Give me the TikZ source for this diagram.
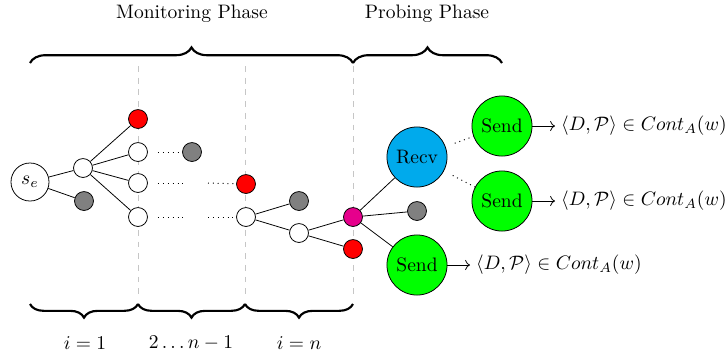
\documentclass[tikz,border=0pt]{standalone}
\usetikzlibrary{decorations.pathreplacing,arrows.meta}
\definecolor{nodered}{RGB}{255,0,0}
\definecolor{nodegray}{RGB}{128,128,128}
\definecolor{recvblue}{RGB}{0,170,236}
\definecolor{sendgreen}{RGB}{0,255,0}
\definecolor{hubmagenta}{RGB}{230,0,140}
\begin{document}
\begin{tikzpicture}[x=0.5128pt,y=-0.5128pt,
  state/.style={circle,draw,inner sep=0pt,minimum size=9.7pt},
  wstate/.style={state,fill=white},
  rstate/.style={state,fill=nodered},
  gstate/.style={state,fill=nodegray},
  mstate/.style={state,fill=hubmagenta},
  bigstate/.style={circle,draw,inner sep=0pt,minimum size=30.8pt},
  sendbox/.style={bigstate,fill=sendgreen},
  recvbox/.style={bigstate,fill=recvblue},
  edge/.style={draw,line width=0.4pt},
  dotline/.style={draw,dotted,line width=0.5pt},
  phaseline/.style={draw,dashed,gray!45,line width=0.5pt},
  bracetop/.style={draw,line width=1.1pt,decorate,decoration={brace,amplitude=8pt}},
  bracebot/.style={draw,line width=1.1pt,decorate,decoration={brace,mirror,amplitude=7pt}},
  result/.style={anchor=west,inner sep=3pt}]
\useasboundingbox (0,0) rectangle (728,356);

% phase separators
\foreach \x/\n in {138/a,245/b,353/c}{
  \coordinate (top\n) at (\x,66);
  \coordinate (bot\n) at (\x,300);
  \path[phaseline] (top\n) -- (bot\n);
}

% braces and phase titles
\coordinate (bl) at (30,63);
\coordinate (bm) at (353,63);
\coordinate (br) at (502,63);
\path[bracetop] (bl) -- (bm);
\path[bracetop] (bm) -- (br);
\node (mon) at (192,14) {Monitoring Phase};
\node (prob) at (427,14) {Probing Phase};

\coordinate (d0) at (30,304);
\coordinate (d1) at (138,304);
\coordinate (d2) at (245,304);
\coordinate (d3) at (353,304);
\path[bracebot] (d0) -- (d1);
\path[bracebot] (d1) -- (d2);
\path[bracebot] (d2) -- (d3);
\node (lab1) at (85,343) {$i=1$};
\node (lab2) at (191,343) {$2\ldots n-1$};
\node (lab3) at (299,343) {$i=n$};

% monitoring tree
\node[circle,draw,fill=white,inner sep=0pt,minimum size=19.5pt] (se) at (30,182) {$s_e$};
\node[wstate] (n1) at (83,168) {};
\node[gstate] (g0) at (84,201) {};
\node[rstate] (r1) at (138,119) {};
\node[wstate] (w1) at (138,152) {};
\node[wstate] (w2) at (138,183) {};
\node[wstate] (w3) at (138,217) {};
\node[gstate] (g1) at (192,152) {};
\node[rstate] (r2) at (246,184) {};
\node[wstate] (w4) at (246,217) {};
\node[gstate] (g2) at (299,201) {};
\node[wstate] (w5) at (299,233) {};
\node[mstate] (m) at (353,217) {};
\node[rstate] (r3) at (353,249) {};

\path[edge] (se) -- (n1);
\path[edge] (se) -- (g0);
\path[edge] (n1) -- (r1);
\path[edge] (n1) -- (w1);
\path[edge] (n1) -- (w2);
\path[edge] (n1) -- (w3);
\path[edge] (w4) -- (g2);
\path[edge] (w4) -- (w5);
\path[edge] (w5) -- (m);
\path[edge] (w5) -- (r3);

% omitted rounds
\coordinate (e1) at (158,152);
\path[dotline] (e1) -- (g1);
\coordinate (e2a) at (158,183);
\coordinate (e2b) at (185,183);
\coordinate (e2c) at (208,183);
\path[dotline] (e2a) -- (e2b);
\path[dotline] (e2c) -- (r2);
\coordinate (e3a) at (158,217);
\coordinate (e3b) at (185,217);
\coordinate (e3c) at (208,217);
\path[dotline] (e3a) -- (e3b);
\path[dotline] (e3c) -- (w4);

% probing phase
\node[recvbox] (recv) at (417,157) {Recv};
\node[gstate] (g3) at (417,211) {};
\node[sendbox] (s3) at (417,265) {Send};
\node[sendbox] (s1) at (502,126) {Send};
\node[sendbox] (s2) at (502,201) {Send};

\path[edge] (m) -- (recv);
\path[edge] (m) -- (g3);
\path[edge] (m) -- (s3);
\path[dotline,shorten <=5pt] (recv) -- (s1);
\path[dotline,shorten <=5pt] (recv) -- (s2);

\node[result] (t1) at (555,126) {$\langle D,\mathcal{P}\rangle \in Cont_A(w)$};
\node[result] (t2) at (555,201) {$\langle D,\mathcal{P}\rangle \in Cont_A(w)$};
\node[result] (t3) at (470,265) {$\langle D,\mathcal{P}\rangle \in Cont_A(w)$};
\draw[->] (s1) -- (t1);
\draw[->] (s2) -- (t2);
\draw[->] (s3) -- (t3);
\end{tikzpicture}
\end{document}
